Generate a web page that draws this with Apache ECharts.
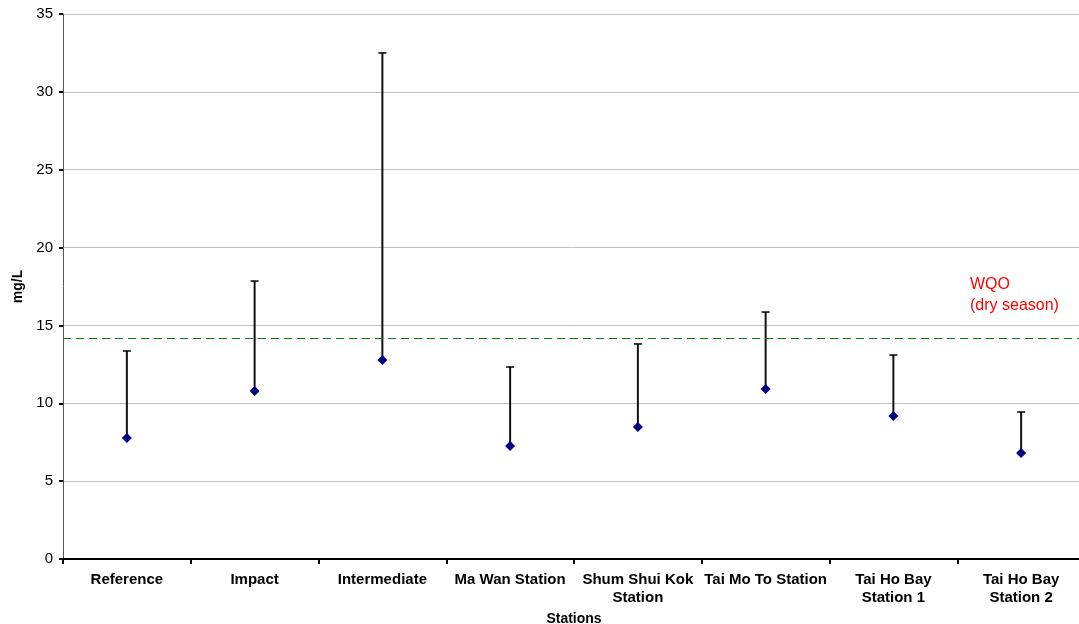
<!DOCTYPE html>
<html><head><meta charset="utf-8">
<script src="https://cdn.jsdelivr.net/npm/echarts@6/dist/echarts.min.js"></script>
<style>html,body{margin:0;padding:0;background:#fff}#c{width:1079px;height:624px}</style>
</head><body><div id="c"></div>
<script>
var categories = ['Reference','Impact','Intermediate','Ma Wan Station','Shum Shui Kok\nStation','Tai Mo To Station','Tai Ho Bay\nStation 1','Tai Ho Bay\nStation 2'];
var meanValues = [7.77, 10.79, 12.78, 7.26, 8.48, 10.92, 9.18, 6.81];
var maxValues = [13.36, 17.85, 32.5, 12.33, 13.81, 15.86, 13.10, 9.44];
var wqo = 14.2;
var yTicks = [0, 5, 10, 15, 20, 25, 30, 35];

var font = 'Liberation Sans, Arial, sans-serif';
var chart = echarts.init(document.getElementById('c'));
var errData = categories.map(function(c, i){ return [i, meanValues[i], maxValues[i]]; });
chart.setOption({
  animation: false,
  grid: {left: 63, right: -6, top: 14, bottom: 65, containLabel: false, outerBoundsMode: 'none'},
  xAxis: {
    type: 'category', data: categories, name: 'Stations', nameLocation: 'middle', nameGap: 52,
    nameTextStyle: {fontFamily: font, fontWeight: 'bold', fontSize: 14, color: '#000'},
    axisLine: {lineStyle: {color: '#000', width: 2}},
    axisTick: {show: true, alignWithLabel: false, length: 5, lineStyle: {color: '#000', width: 2}},
    axisLabel: {fontFamily: font, fontWeight: 'bold', fontSize: 15, color: '#000', margin: 12, interval: 0, lineHeight: 18},
    splitLine: {show: false}
  },
  yAxis: {
    type: 'value', min: 0, max: 35, interval: 5, name: 'mg/L', nameLocation: 'middle', nameGap: 38,
    nameTextStyle: {fontFamily: font, fontWeight: 'bold', fontSize: 14, color: '#000'},
    axisLine: {show: true, lineStyle: {color: '#555', width: 1}},
    axisTick: {show: true, length: 4, lineStyle: {color: '#000', width: 2}},
    axisLabel: {fontFamily: font, fontSize: 15, color: '#000', margin: 10,
      formatter: function(v){ return yTicks.indexOf(v) >= 0 ? String(v) : ''; }},
    splitLine: {show: true, lineStyle: {color: '#c0c0c0', width: 1}}
  },
  series: [
    {
      type: 'custom', data: errData, z: 2,
      renderItem: function(params, api){
        var p0 = api.coord([api.value(0), api.value(1)]);
        var p1 = api.coord([api.value(0), api.value(2)]);
        return {type: 'group', children: [
          {type: 'line', shape: {x1: p0[0], y1: p0[1], x2: p1[0], y2: p1[1]}, style: {stroke: '#111', lineWidth: 2}},
          {type: 'line', shape: {x1: p1[0]-4, y1: p1[1], x2: p1[0]+4, y2: p1[1]}, style: {stroke: '#000', lineWidth: 1.5}}
        ]};
      }
    },
    {
      type: 'scatter', data: meanValues, symbol: 'diamond', symbolSize: 10, z: 3,
      itemStyle: {color: '#000080', opacity: 1},
      markLine: {
        silent: true, symbol: 'none', label: {show: false},
        lineStyle: {color: '#008000', type: [8, 5], width: 1, opacity: 1},
        data: [{yAxis: wqo, lineStyle: {color: '#008000', type: [8, 5], width: 1, opacity: 1}}]
      }
    }
  ],
  graphic: [
    {type: 'text', left: 970, top: 274, style: {text: 'WQO\n(dry season)', fill: '#ff0000', font: '16px ' + font, lineHeight: 21}}
  ]
});
</script></body></html>
